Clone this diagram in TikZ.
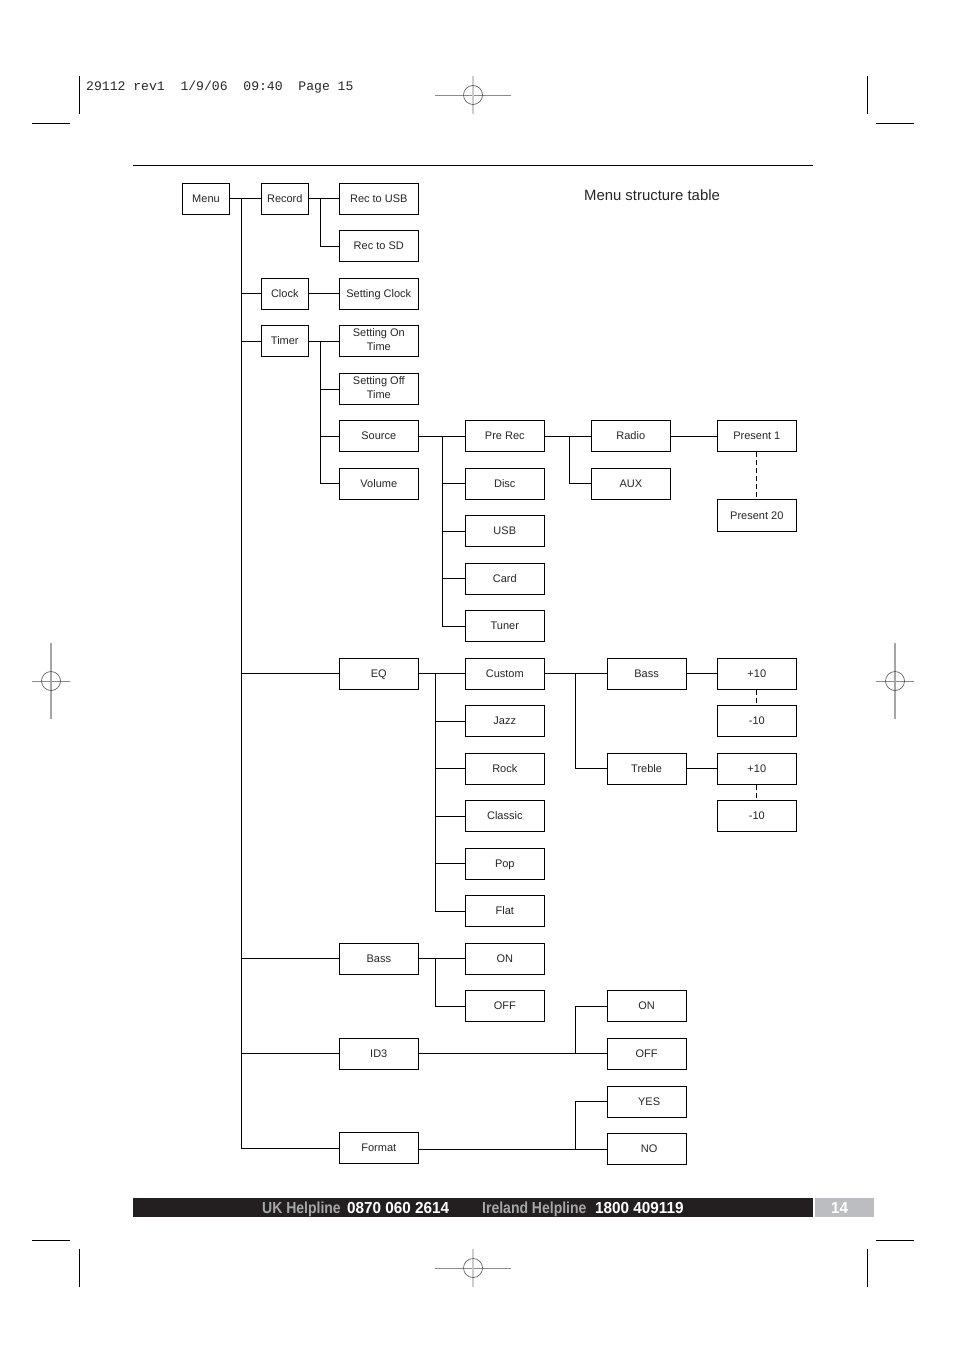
\documentclass[tikz,border=0pt]{standalone}
\usepackage{fontspec}
\setmainfont{Liberation Sans}
\newfontfamily\monofont{Liberation Mono}
\newfontfamily\wordfont[FakeStretch=0.875]{Liberation Sans Bold}
\newfontfamily\numberfont[FakeStretch=0.955]{Liberation Sans Bold}
\usetikzlibrary{calc}

\definecolor{barblack}{HTML}{231F20}
\definecolor{bargrey}{HTML}{BCBDC0}
\definecolor{markgrey}{HTML}{8A8A8A}

\tikzset{
    menubox/.style={draw, line width=0.9pt, fill=white, minimum height=31.3pt, inner sep=0pt, align=center,
        font=\fontsize{11}{14}\selectfont, text=black!85, execute at begin node=\rule[-2.3pt]{0pt}{11.8pt}},
    widebox/.style={menubox, minimum width=79pt},
    thinbox/.style={menubox, minimum width=47pt},
    twolines/.style={execute at begin node=\rule{0pt}{10pt}},
    link/.style={line width=0.9pt},
    dotlink/.style={link, dash pattern=on 5pt off 3pt},
    crop/.style={line width=0.9pt},
    barwords/.style={anchor=base west, inner sep=0pt, font=\wordfont\fontsize{16}{18}\selectfont, text=black!35},
    barnumbers/.style={anchor=base west, inner sep=0pt, font=\numberfont\fontsize{16}{18}\selectfont, text=white},
    regmark/.pic={
        \draw[markgrey, line width=0.7pt] (-38,0) -- (38,0);
        \draw[black!20, line width=1.2pt] (0,-19) -- (0,19);
        \draw[black!70, line width=0.6pt] (0,0) circle (9.5);
    }
}

\begin{document}
\begin{tikzpicture}[x=1pt, y=-1pt]
            \useasboundingbox (0,0) rectangle (954,1351);

            % printer marks
            \node[anchor=west, inner sep=0pt, font=\monofont\fontsize{13.1}{15}\selectfont, text=black!85] (slug) at (86,87.2) {29112 rev1~~1/9/06~~09:40~~Page 15};
            \draw[crop] (79,76) -- (79,114);
            \draw[crop] (867,76) -- (867,114);
            \draw[crop] (79,1249) -- (79,1287);
            \draw[crop] (867,1249) -- (867,1287);
            \draw[crop] (32,123) -- (70,123);
            \draw[crop] (876,123) -- (914,123);
            \draw[crop] (32,1240) -- (70,1240);
            \draw[crop] (876,1240) -- (914,1240);
            \pic at (473,95) {regmark};
            \pic at (473,1268) {regmark};
            \draw[markgrey, line width=0.7pt] (32,681) -- (70,681);
            \draw[black!35, line width=1.2pt] (51,643) -- (51,719);
            \draw[black!70, line width=0.6pt] (51,681) circle (9.5);
            \draw[markgrey, line width=0.7pt] (876,681) -- (914,681);
            \draw[black!35, line width=1.2pt] (895,643) -- (895,719);
            \draw[black!70, line width=0.6pt] (895,681) circle (9.5);

            % head of the page
            \draw[crop] (133,165) -- (813,165);
            \node[inner sep=0pt, font=\fontsize{14.9}{17}\selectfont, text=black!85] (title) at (652,195) {Menu structure table};

            % first column
            \node[thinbox] (menu) at (206,198.8) {Menu};
            \node[thinbox] (record) at (284.8,198.8) {Record};
            \node[thinbox] (clock) at (284.8,293.8) {Clock};
            \node[thinbox] (timer) at (284.8,341) {Timer};

            % second column
            \node[widebox] (recusb) at (378.8,198.8) {Rec to USB};
            \node[widebox] (recsd) at (378.8,246) {Rec to SD};
            \node[widebox] (setclock) at (378.8,293.8) {Setting Clock};
            \node[widebox, twolines] (seton) at (378.8,341) {Setting On\\Time};
            \node[widebox, twolines] (setoff) at (378.8,389) {Setting Off\\Time};
            \node[widebox] (source) at (378.8,436) {Source};
            \node[widebox] (volume) at (378.8,483.8) {Volume};
            \node[widebox] (eq) at (378.8,673.8) {EQ};
            \node[widebox] (bass) at (378.8,958.8) {Bass};
            \node[widebox] (idthree) at (378.8,1053.8) {ID3};
            \node[widebox] (format) at (378.8,1148) {Format};

            % third column
            \node[widebox] (prerec) at (504.8,436) {Pre Rec};
            \node[widebox] (disc) at (504.8,483.8) {Disc};
            \node[widebox] (usb) at (504.8,531) {USB};
            \node[widebox] (card) at (504.8,578.8) {Card};
            \node[widebox] (tuner) at (504.8,626) {Tuner};
            \node[widebox] (custom) at (504.8,673.8) {Custom};
            \node[widebox] (jazz) at (504.8,721) {Jazz};
            \node[widebox] (rock) at (504.8,768.8) {Rock};
            \node[widebox] (classic) at (504.8,816) {Classic};
            \node[widebox] (pop) at (504.8,863.8) {Pop};
            \node[widebox] (flat) at (504.8,911) {Flat};
            \node[widebox] (basson) at (504.8,958.8) {ON};
            \node[widebox] (bassoff) at (504.8,1006) {OFF};

            % fourth column
            \node[widebox] (radio) at (630.8,436) {Radio};
            \node[widebox] (aux) at (630.8,483.8) {AUX};
            \node[widebox] (eqbass) at (646.6,673.8) {Bass};
            \node[widebox] (treble) at (646.6,768.8) {Treble};
            \node[widebox] (idon) at (646.6,1006) {ON};
            \node[widebox] (idoff) at (646.6,1053.8) {OFF};
            \node[widebox] (yes) at (646.6,1101.8) {\hspace{5pt}YES};
            \node[widebox] (no) at (646.6,1149) {\hspace{5pt}NO};

            % last column
            \node[widebox] (presone) at (756.8,436) {Present 1};
            \node[widebox] (prestwenty) at (756.8,515.5) {Present 20};
            \node[widebox] (bassup) at (756.8,673.8) {+10};
            \node[widebox] (bassdown) at (756.8,721) {-10};
            \node[widebox] (trebleup) at (756.8,768.8) {+10};
            \node[widebox] (trebledown) at (756.8,816) {-10};

            % branch points
            \coordinate (menubus) at (241.3,198.8);
            \coordinate (recordbus) at (320.3,198.8);
            \coordinate (timerbus) at (320.3,341);
            \coordinate (sourcebus) at (442.3,436);
            \coordinate (prerecbus) at (569.3,436);
            \coordinate (eqbus) at (435,673.8);
            \coordinate (custombus) at (575.3,673.8);
            \coordinate (bassbus) at (435,958.8);
            \coordinate (idbus) at (575.3,1053.8);
            \coordinate (formatbus) at (575.3,1149);

            % main spine
            \draw[link] (menu) -- (record);
            \foreach \target in {clock,timer,eq,bass,idthree,format}
                \draw[link] (menubus) |- (\target.west);

            \draw[link] (record) -- (recusb);
            \draw[link] (recordbus) |- (recsd.west);
            \draw[link] (clock) -- (setclock);

            \draw[link] (timer) -- (seton);
            \foreach \target in {setoff,source,volume}
                \draw[link] (timerbus) |- (\target.west);

            \draw[link] (source) -- (prerec);
            \foreach \target in {disc,usb,card,tuner}
                \draw[link] (sourcebus) |- (\target.west);

            \draw[link] (prerec) -- (radio);
            \draw[link] (prerecbus) |- (aux.west);
            \draw[link] (radio) -- (presone);
            \draw[dotlink] (presone) -- (prestwenty);

            \draw[link] (eq) -- (custom);
            \foreach \target in {jazz,rock,classic,pop,flat}
                \draw[link] (eqbus) |- (\target.west);

            \draw[link] (custom) -- (eqbass);
            \draw[link] (custombus) |- (treble.west);
            \draw[link] (eqbass) -- (bassup);
            \draw[link] (treble) -- (trebleup);
            \draw[dotlink] (bassup) -- (bassdown);
            \draw[dotlink] (trebleup) -- (trebledown);

            \draw[link] (bass) -- (basson);
            \draw[link] (bassbus) |- (bassoff.west);

            \draw[link] (idthree) -- (idoff);
            \draw[link] (idbus) |- (idon.west);

            \draw[link] (format.east |- formatbus) -- (no.west);
            \draw[link] (formatbus) |- (yes.west);

            % foot of the page
            \fill[barblack] (133,1198) rectangle (813,1216.8);
            \fill[bargrey] (815,1198) rectangle (874,1216.8);
            \node[barwords] (ukline) at (262,1213) {UK Helpline};
            \node[barnumbers] (uknumber) at (347,1213) {0870 060 2614};
            \node[barwords] (ieline) at (482,1213) {Ireland Helpline};
            \node[barnumbers] (ienumber) at (595,1213) {1800 409119};
            \node[barnumbers] (pageno) at (831,1213) {14};
\end{tikzpicture}
\end{document}
